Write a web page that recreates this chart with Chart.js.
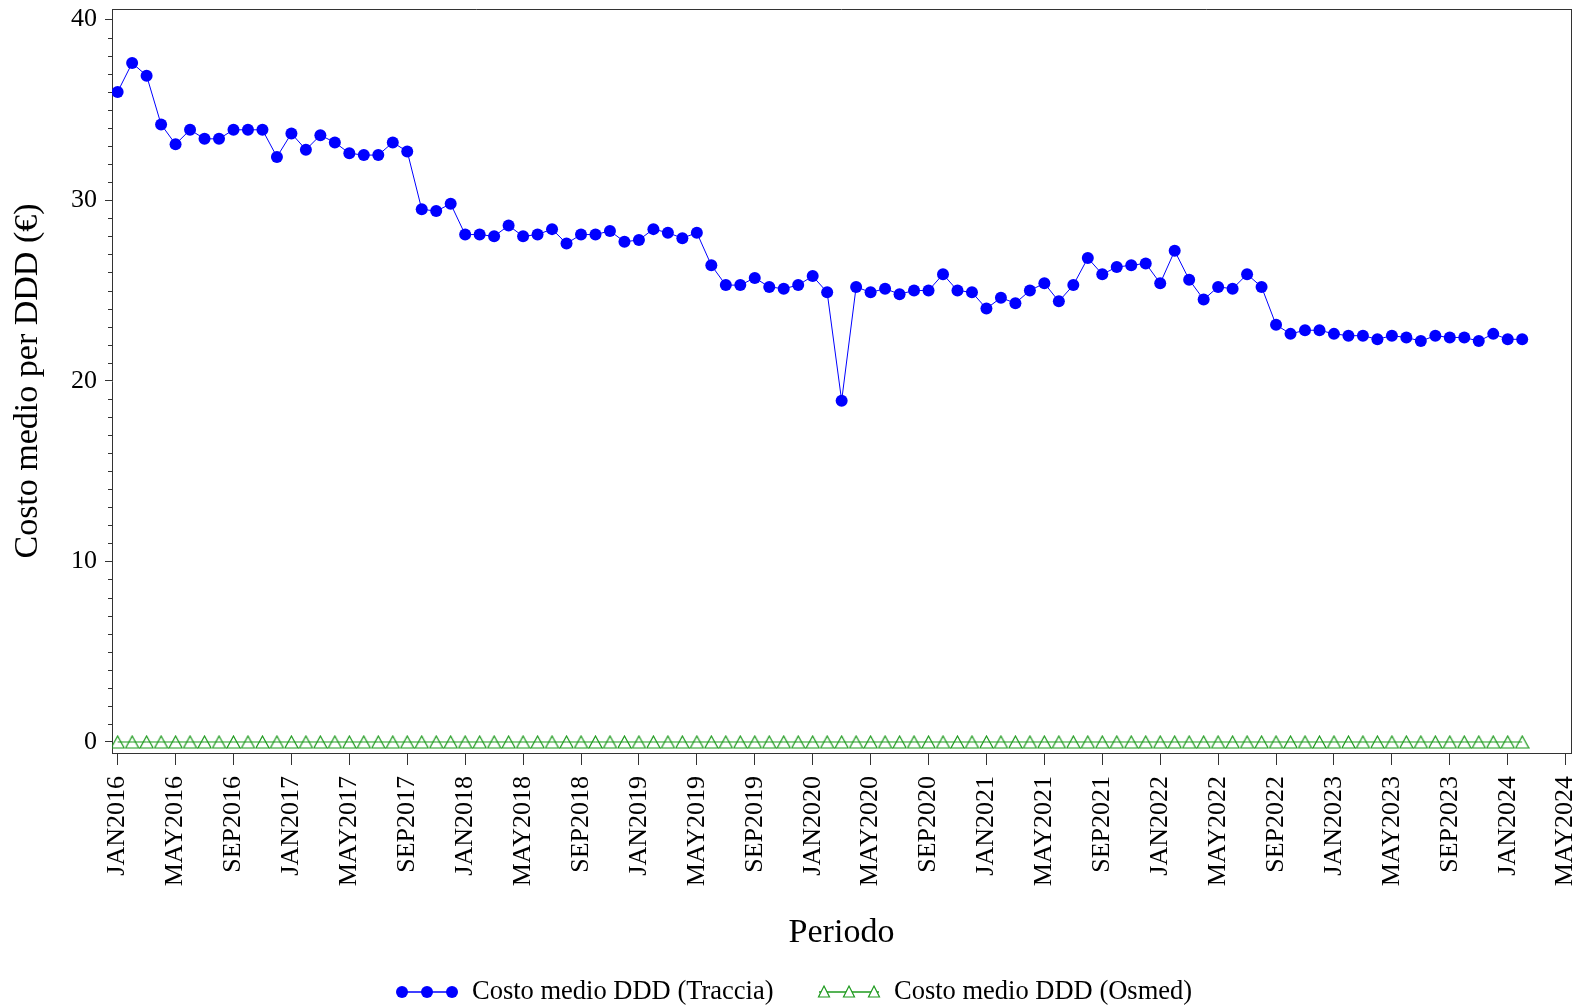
<!DOCTYPE html>
<html lang="it">

<head>
    <meta charset="UTF-8">
    <title>Costo medio per DDD</title>
    <script src="https://cdn.jsdelivr.net/npm/chart.js"></script>
    <style>
        * {
            margin: 0;
            padding: 0;
            box-sizing: border-box;
        }

        body {
            background: #fff;
            width: 1585px;
            height: 1008px;
            overflow: hidden;
        }

        canvas {
            display: block;
        }
    </style>
</head>

<body>
    <canvas id="costoChart" width="1585" height="1008"></canvas>

    <script>
        // Mesi (JAN2016 .. FEB2024), uno per punto
        const mesi = [
            'JAN2016', 'FEB2016', 'MAR2016', 'APR2016', 'MAY2016', 'JUN2016', 'JUL2016', 'AUG2016', 'SEP2016', 'OCT2016', 'NOV2016', 'DEC2016',
            'JAN2017', 'FEB2017', 'MAR2017', 'APR2017', 'MAY2017', 'JUN2017', 'JUL2017', 'AUG2017', 'SEP2017', 'OCT2017', 'NOV2017', 'DEC2017',
            'JAN2018', 'FEB2018', 'MAR2018', 'APR2018', 'MAY2018', 'JUN2018', 'JUL2018', 'AUG2018', 'SEP2018', 'OCT2018', 'NOV2018', 'DEC2018',
            'JAN2019', 'FEB2019', 'MAR2019', 'APR2019', 'MAY2019', 'JUN2019', 'JUL2019', 'AUG2019', 'SEP2019', 'OCT2019', 'NOV2019', 'DEC2019',
            'JAN2020', 'FEB2020', 'MAR2020', 'APR2020', 'MAY2020', 'JUN2020', 'JUL2020', 'AUG2020', 'SEP2020', 'OCT2020', 'NOV2020', 'DEC2020',
            'JAN2021', 'FEB2021', 'MAR2021', 'APR2021', 'MAY2021', 'JUN2021', 'JUL2021', 'AUG2021', 'SEP2021', 'OCT2021', 'NOV2021', 'DEC2021',
            'JAN2022', 'FEB2022', 'MAR2022', 'APR2022', 'MAY2022', 'JUN2022', 'JUL2022', 'AUG2022', 'SEP2022', 'OCT2022', 'NOV2022', 'DEC2022',
            'JAN2023', 'FEB2023', 'MAR2023', 'APR2023', 'MAY2023', 'JUN2023', 'JUL2023', 'AUG2023', 'SEP2023', 'OCT2023', 'NOV2023', 'DEC2023',
            'JAN2024', 'FEB2024'
        ];

        // Costo medio DDD (Traccia), in euro
        const traccia = [
            36.0, 37.6, 36.9, 34.2, 33.1, 33.9, 33.4, 33.4, 33.9, 33.9, 33.9, 32.4,
            33.7, 32.8, 33.6, 33.2, 32.6, 32.5, 32.5, 33.2, 32.7, 29.5, 29.4, 29.8,
            28.1, 28.1, 28.0, 28.6, 28.0, 28.1, 28.4, 27.6, 28.1, 28.1, 28.3, 27.7,
            27.8, 28.4, 28.2, 27.9, 28.2, 26.4, 25.3, 25.3, 25.7, 25.2, 25.1, 25.3,
            25.8, 24.9, 18.9, 25.2, 24.9, 25.1, 24.8, 25.0, 25.0, 25.9, 25.0, 24.9,
            24.0, 24.6, 24.3, 25.0, 25.4, 24.4, 25.3, 26.8, 25.9, 26.3, 26.4, 26.5,
            25.4, 27.2, 25.6, 24.5, 25.2, 25.1, 25.9, 25.2, 23.1, 22.6, 22.8, 22.8,
            22.6, 22.5, 22.5, 22.3, 22.5, 22.4, 22.2, 22.5, 22.4, 22.4, 22.2, 22.6,
            22.3, 22.3
        ];

        // Costo medio DDD (Osmed)
        const osmed = [
            0, 0, 0, 0, 0, 0, 0, 0, 0, 0, 0, 0,
            0, 0, 0, 0, 0, 0, 0, 0, 0, 0, 0, 0,
            0, 0, 0, 0, 0, 0, 0, 0, 0, 0, 0, 0,
            0, 0, 0, 0, 0, 0, 0, 0, 0, 0, 0, 0,
            0, 0, 0, 0, 0, 0, 0, 0, 0, 0, 0, 0,
            0, 0, 0, 0, 0, 0, 0, 0, 0, 0, 0, 0,
            0, 0, 0, 0, 0, 0, 0, 0, 0, 0, 0, 0,
            0, 0, 0, 0, 0, 0, 0, 0, 0, 0, 0, 0,
            0, 0
        ];

        // Etichette asse X, una ogni 4 mesi
        const etichetteX = [
            'JAN2016', 'MAY2016', 'SEP2016', 'JAN2017', 'MAY2017', 'SEP2017', 'JAN2018', 'MAY2018', 'SEP2018',
            'JAN2019', 'MAY2019', 'SEP2019', 'JAN2020', 'MAY2020', 'SEP2020', 'JAN2021', 'MAY2021', 'SEP2021',
            'JAN2022', 'MAY2022', 'SEP2022', 'JAN2023', 'MAY2023', 'SEP2023', 'JAN2024', 'MAY2024'
        ];

        const nomiSerie = ['Costo medio DDD (Traccia)', 'Costo medio DDD (Osmed)'];

        const FONT = "'Liberation Serif', 'Times New Roman', serif";
        const BLU = '#0000ff';
        const VERDE = '#1e9a1e';
        const ASSE = '#333';

        // triangolo vuoto come immagine (marcatore Osmed)
        function triangolo(w, h, colore) {
            const c = document.createElement('canvas');
            c.width = w;
            c.height = h;
            const g = c.getContext('2d');
            g.strokeStyle = colore;
            g.lineWidth = 1.2;
            g.beginPath();
            g.moveTo(w / 2, 1);
            g.lineTo(w - 1, h - 1);
            g.lineTo(1, h - 1);
            g.closePath();
            g.stroke();
            return c;
        }
        const triOsmed = triangolo(15, 14, VERDE);

        // punti come {x: indice mese, y: valore}
        const puntiTraccia = traccia.map((v, i) => ({ x: i, y: v, mese: mesi[i] }));
        const puntiOsmed = osmed.map((v, i) => ({ x: i, y: v, mese: mesi[i] }));

        // bordo superiore/destro + tacche minori asse Y
        const cornice = {
            id: 'cornice',
            afterDraw(chart) {
                const { ctx, chartArea: a } = chart;
                const y = chart.scales.y;
                ctx.save();
                ctx.strokeStyle = ASSE;
                ctx.lineWidth = 1;
                ctx.beginPath();
                ctx.moveTo(a.left, Math.round(a.top) + 0.5);
                ctx.lineTo(a.right, Math.round(a.top) + 0.5);
                ctx.moveTo(Math.round(a.right) + 0.5, a.top);
                ctx.lineTo(Math.round(a.right) + 0.5, a.bottom);
                // minor ticks ogni 1
                for (let v = 1; v < 40; v++) {
                    if (v % 10 === 0) continue;
                    const py = Math.round(y.getPixelForValue(v)) + 0.5;
                    ctx.moveTo(a.left - 4, py);
                    ctx.lineTo(a.left, py);
                }
                ctx.stroke();
                ctx.restore();
            }
        };

        // legenda in basso (linea con tre marcatori)
        const legenda = {
            id: 'legenda',
            afterDraw(chart) {
                const { ctx } = chart;
                const cy = 992;
                const items = [
                    { x0: 397, ds: chart.data.datasets[0], tipo: 'cerchio' },
                    { x0: 819, ds: chart.data.datasets[1], tipo: 'triangolo' }
                ];
                ctx.save();
                items.forEach(it => {
                    const w = 60;
                    ctx.strokeStyle = it.ds.borderColor;
                    ctx.lineWidth = 1.5;
                    ctx.beginPath();
                    ctx.moveTo(it.x0, cy);
                    ctx.lineTo(it.x0 + w, cy);
                    ctx.stroke();
                    [5, 30, 55].forEach(dx => {
                        const px = it.x0 + dx;
                        ctx.beginPath();
                        if (it.tipo === 'cerchio') {
                            ctx.fillStyle = it.ds.pointBackgroundColor;
                            ctx.arc(px, cy, 6, 0, Math.PI * 2);
                            ctx.fill();
                        } else {
                            ctx.strokeStyle = it.ds.borderColor;
                            ctx.lineWidth = 1.2;
                            ctx.moveTo(px, cy - 6);
                            ctx.lineTo(px + 5.5, cy + 5);
                            ctx.lineTo(px - 5.5, cy + 5);
                            ctx.closePath();
                            ctx.fillStyle = '#fff';
                            ctx.fill();
                            ctx.stroke();
                        }
                    });
                    ctx.fillStyle = '#000';
                    ctx.font = '26.5px ' + FONT;
                    ctx.textAlign = 'left';
                    ctx.textBaseline = 'middle';
                    ctx.fillText(it.ds.label, it.x0 + w + 15, cy);
                });
                ctx.restore();
            }
        };

        const ctx = document.getElementById('costoChart').getContext('2d');
        const costoChart = new Chart(ctx, {
            type: 'line',
            data: {
                datasets: [{
                    label: nomiSerie[0],
                    data: puntiTraccia,
                    borderColor: BLU,
                    borderWidth: 1,
                    pointStyle: 'circle',
                    pointRadius: 6,
                    pointBackgroundColor: BLU,
                    pointBorderColor: BLU,
                    pointBorderWidth: 0,
                    tension: 0,
                    order: 1
                }, {
                    label: nomiSerie[1],
                    data: puntiOsmed,
                    borderColor: VERDE,
                    borderWidth: 1,
                    pointStyle: triOsmed,
                    pointRadius: 7,
                    tension: 0,
                    order: 2
                }]
            },
            options: {
                responsive: false,
                animation: false,
                devicePixelRatio: 1,
                layout: {
                    padding: { top: 9, right: 14, bottom: 55, left: 0 }
                },
                plugins: {
                    legend: { display: false },
                    tooltip: { enabled: false }
                },
                scales: {
                    x: {
                        type: 'linear',
                        min: -0.39,
                        max: 100.37,
                        afterFit(scale) {
                            scale.height = 200;
                            scale.paddingLeft = 0;
                            scale.paddingRight = 0;
                        },
                        border: { display: true, color: ASSE, width: 1 },
                        grid: { drawOnChartArea: false, drawTicks: true, tickLength: 12, color: ASSE },
                        ticks: {
                            stepSize: 4,
                            includeBounds: false,
                            autoSkip: false,
                            minRotation: 90,
                            maxRotation: 90,
                            padding: 11,
                            color: '#000',
                            font: { family: FONT, size: 26 },
                            callback: (v) => etichetteX[Math.round(v / 4)] || ''
                        },
                        title: {
                            display: true,
                            text: 'Periodo',
                            color: '#000',
                            padding: 0,
                            font: { family: FONT, size: 34 }
                        }
                    },
                    y: {
                        min: -0.61,
                        max: 40.59,
                        afterFit(scale) {
                            scale.width = 112;
                            scale.paddingTop = 0;
                            scale.paddingBottom = 0;
                        },
                        border: { display: true, color: ASSE, width: 1 },
                        grid: { drawOnChartArea: false, drawTicks: true, tickLength: 7, color: ASSE },
                        ticks: {
                            stepSize: 10,
                            includeBounds: false,
                            padding: 8,
                            color: '#000',
                            font: { family: FONT, size: 26 }
                        },
                        title: {
                            display: true,
                            text: 'Costo medio per DDD (€)',
                            color: '#000',
                            padding: { top: 8, bottom: 0 },
                            font: { family: FONT, size: 34 }
                        }
                    }
                }
            },
            plugins: [cornice, legenda]
        });
    </script>
</body>

</html>
